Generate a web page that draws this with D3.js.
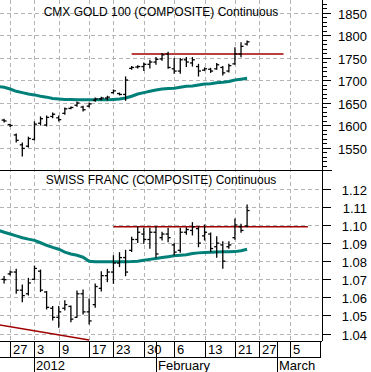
<!DOCTYPE html>
<html>
<head>
<meta charset="utf-8">
<script src="https://cdn.jsdelivr.net/npm/d3@7"></script>
<style>
  body { margin: 0; background: #fff; }
  text { font-family: "Liberation Sans", Arial, sans-serif; }
</style>
</head>
<body>
<div id="chart"></div>
<script>
// trading days shown on the axis
const tradingDays = [
  "2011-12-22","2011-12-23","2011-12-27","2011-12-28","2011-12-29","2011-12-30",
  "2012-01-03","2012-01-04","2012-01-05","2012-01-06","2012-01-09","2012-01-10",
  "2012-01-11","2012-01-12","2012-01-13","2012-01-17","2012-01-18","2012-01-19",
  "2012-01-20","2012-01-23","2012-01-24","2012-01-25","2012-01-26","2012-01-27",
  "2012-01-30","2012-01-31","2012-02-01","2012-02-02","2012-02-03","2012-02-06",
  "2012-02-07","2012-02-08","2012-02-09","2012-02-10","2012-02-13","2012-02-14",
  "2012-02-15","2012-02-16","2012-02-17","2012-02-21","2012-02-22","2012-02-23",
  "2012-02-24","2012-02-27","2012-02-28","2012-02-29","2012-03-01","2012-03-02",
  "2012-03-05","2012-03-06","2012-03-07","2012-03-08","2012-03-09","2012-03-12"
];
const weekTicks = ["2011-12-27","2012-01-03","2012-01-09","2012-01-17","2012-01-23","2012-01-30",
  "2012-02-06","2012-02-13","2012-02-21","2012-02-27","2012-03-05"];
const weekLabels = ["27","3","9","17","23","30","6","13","21","27","5"];
const monthTicks = ["2012-01-03","2012-02-01","2012-03-01"];
const monthLabels = ["2012","February","March"];

// gold, from Dec 23 (index 1) to Feb 23
const goldOpen  = [null,1611,1601,1578,1556,1553,1568,1604,1600,1619,1616,1626,1637,1644,1640,1642,1655,1658,1660,1672,1670,1668,1726,1729,1730,1735,1740,1747,1758,1725,1720,1745,1738,1730,1722,1724,1725,1728,1720,1736,1758,1780];
const goldHigh  = [null,1613,1602,1580,1560,1573,1607,1618,1620,1627,1620,1638,1640,1651,1642,1649,1660,1662,1664,1678,1671,1707,1730,1732,1738,1744,1750,1759,1762,1748,1748,1750,1750,1735,1727,1726,1737,1730,1735,1772,1783,1787];
const goldLow   = [null,1607,1597,1562,1531,1551,1567,1600,1598,1616,1609,1624,1636,1642,1631,1640,1653,1656,1656,1671,1667,1655,1724,1727,1721,1727,1735,1744,1726,1715,1715,1730,1731,1709,1721,1717,1724,1711,1718,1735,1752,1778];
const goldClose = [null,1609,1599,1566,1548,1570,1602,1614,1617,1624,1612,1636,1639,1649,1634,1647,1658,1660,1662,1676,1668,1700,1728,1730,1735,1740,1746,1756,1728,1720,1745,1740,1745,1720,1725,1720,1734,1716,1732,1758,1775,1785];
const goldMA = [1686,1684,1680,1675,1672,1669,1667,1664,1662,1659,1658,1657,1657,1656,1656,1656,1656,1656,1656,1657,1658,1660,1664,1669,1672,1675,1678,1680,1681,1682,1684,1686,1687,1689,1691,1692,1694,1695,1697,1700,1702,1704];
const goldResistance = { from: "2012-01-26", to: "2012-03-02", value: 1758 };
const goldTicks = [1550,1600,1650,1700,1750,1800,1850];

// swiss franc
const chfOpen  = [null,1.0700,1.0730,1.0740,1.0640,1.0620,1.0700,1.0745,1.0630,1.0540,1.0490,1.0540,1.0550,1.0490,1.0620,1.0520,1.0560,1.0650,1.0720,1.0740,1.0790,1.0820,1.0860,1.0920,1.0950,1.0920,1.0960,1.0930,1.0950,1.0890,1.0860,1.0960,1.0970,1.0980,1.0940,1.0950,1.0880,1.0890,1.0880,1.0930,1.0990,1.0995];
const chfHigh  = [null,1.0715,1.0746,1.0755,1.0669,1.0705,1.0773,1.0751,1.0632,1.0549,1.0549,1.0582,1.0552,1.0635,1.0641,1.0591,1.0674,1.0742,1.0755,1.0830,1.0847,1.0860,1.0932,1.0991,1.0982,1.0982,1.0991,1.0960,1.0982,1.0899,1.0982,1.0985,1.1013,1.0991,1.1000,1.0956,1.0935,1.0908,1.0908,1.1033,1.1004,1.1110];
const chfLow   = [null,1.0680,1.0724,1.0623,1.0576,1.0613,1.0700,1.0632,1.0536,1.0475,1.0435,1.0530,1.0466,1.0490,1.0508,1.0453,1.0545,1.0635,1.0687,1.0678,1.0770,1.0720,1.0853,1.0904,1.0899,1.0871,1.0822,1.0917,1.0908,1.0834,1.0849,1.0949,1.0945,1.0880,1.0917,1.0853,1.0822,1.0761,1.0871,1.0921,1.0960,1.0991];
const chfClose = [null,1.0698,1.0740,1.0640,1.0610,1.0680,1.0760,1.0640,1.0545,1.0490,1.0520,1.0560,1.0480,1.0620,1.0520,1.0470,1.0660,1.0720,1.0740,1.0790,1.0820,1.0740,1.0920,1.0960,1.0920,1.0960,1.0840,1.0950,1.0930,1.0850,1.0960,1.0975,1.0990,1.0900,1.0960,1.0870,1.0900,1.0800,1.0890,1.1000,1.0970,1.1080];
const chfMA = [1.0972,1.0960,1.0950,1.0940,1.0930,1.0922,1.0915,1.0902,1.0888,1.0876,1.0866,1.0850,1.0840,1.0833,1.0822,1.0800,1.0797,1.0797,1.0797,1.0797,1.0797,1.0797,1.0798,1.0800,1.0805,1.0810,1.0815,1.0820,1.0825,1.0830,1.0833,1.0836,1.0842,1.0846,1.0848,1.0850,1.0851,1.0852,1.0852,1.0853,1.0858,1.0866];
const chfResistance = { from: "2012-01-23", to: "2012-03-08", value: 1.099 };
const chfTrend = { from: "2011-12-22", to: "2012-01-17", start: 1.0449, end: 1.0365 };
const chfTicks = [1.04,1.05,1.06,1.07,1.08,1.09,1.10,1.11,1.12];

const width = 371, height = 372;
const plotRight = 322, midY = 170, plotBottom = 341;

const svg = d3.select("#chart").append("svg")
    .attr("width", width)
    .attr("height", height);

svg.append("rect").attr("width", width).attr("height", height).attr("fill", "#fff");

const x = d3.scaleLinear().domain([0, tradingDays.length - 1]).range([-2, 320]);
const xd = d => x(tradingDays.indexOf(d));

const yGold = d3.scaleLinear().domain([1500, 1878]).range([midY, 0]);
const yChf = d3.scaleLinear().domain([1.0359, 1.1304]).range([plotBottom, midY]);

svg.append("clipPath").attr("id", "clipTop")
  .append("rect").attr("x", 0).attr("y", 0).attr("width", plotRight).attr("height", midY);
svg.append("clipPath").attr("id", "clipBot")
  .append("rect").attr("x", 0).attr("y", midY).attr("width", plotRight).attr("height", plotBottom - midY);

// grid
const grid = svg.append("g")
    .attr("stroke", "#b4b4b4")
    .attr("stroke-dasharray", "4,3")
    .attr("stroke-width", 1);

grid.selectAll(".vgrid").data(weekTicks).enter().append("line")
    .attr("x1", d => Math.round(xd(d)) + 0.5)
    .attr("x2", d => Math.round(xd(d)) + 0.5)
    .attr("y1", 0).attr("y2", plotBottom);

grid.selectAll(".hg1").data(goldTicks).enter().append("line")
    .attr("x1", 0).attr("x2", plotRight)
    .attr("y1", d => Math.round(yGold(d)) + 0.5)
    .attr("y2", d => Math.round(yGold(d)) + 0.5);

grid.selectAll(".hg2").data(chfTicks).enter().append("line")
    .attr("x1", 0).attr("x2", plotRight)
    .attr("y1", d => Math.round(yChf(d)) + 0.5)
    .attr("y2", d => Math.round(yChf(d)) + 0.5);

function drawPanel(clip, y, open, high, low, close, ma, resistance) {
    const g = svg.append("g").attr("clip-path", `url(#${clip})`);

    // moving average
    const line = d3.line().x((d, i) => x(i)).y(d => y(d));
    g.append("path")
        .datum(ma)
        .attr("d", line)
        .attr("fill", "none")
        .attr("stroke", "#008078")
        .attr("stroke-width", 3);

    // resistance line
    g.append("line")
        .attr("x1", xd(resistance.from)).attr("x2", xd(resistance.to))
        .attr("y1", y(resistance.value)).attr("y2", y(resistance.value))
        .attr("stroke", "#a00000")
        .attr("stroke-width", 1.5);

    // OHLC bars
    const idx = d3.range(high.length).filter(i => high[i] != null);
    const bars = g.selectAll(".bar").data(idx).enter().append("g")
        .attr("stroke", "#000")
        .attr("stroke-width", 1.3);
    bars.append("line")
        .attr("x1", i => x(i)).attr("x2", i => x(i))
        .attr("y1", i => y(high[i]) - 0.5).attr("y2", i => y(low[i]) + 0.5);
    bars.append("line")
        .attr("x1", i => x(i) - 2.5).attr("x2", i => x(i))
        .attr("y1", i => y(open[i])).attr("y2", i => y(open[i]));
    bars.append("line")
        .attr("x1", i => x(i)).attr("x2", i => x(i) + 2.5)
        .attr("y1", i => y(close[i])).attr("y2", i => y(close[i]));
    return g;
}

drawPanel("clipTop", yGold, goldOpen, goldHigh, goldLow, goldClose, goldMA, goldResistance);
const bot = drawPanel("clipBot", yChf, chfOpen, chfHigh, chfLow, chfClose, chfMA, chfResistance);

// falling trend line in the franc panel
bot.append("line")
    .attr("x1", xd(chfTrend.from)).attr("x2", xd(chfTrend.to))
    .attr("y1", yChf(chfTrend.start)).attr("y2", yChf(chfTrend.end))
    .attr("stroke", "#a00000")
    .attr("stroke-width", 1.5);

// titles
svg.append("text").attr("x", 161).attr("y", 16)
    .attr("text-anchor", "middle").attr("font-size", "12px")
    .text("CMX GOLD 100 (COMPOSITE) Continuous");
svg.append("text").attr("x", 161).attr("y", 184)
    .attr("text-anchor", "middle").attr("font-size", "12px")
    .text("SWISS FRANC (COMPOSITE) Continuous");

// right axes
const axisG = svg.append("g").attr("stroke", "#000").attr("stroke-width", 1);
axisG.append("line").attr("x1", plotRight + 0.5).attr("x2", plotRight + 0.5).attr("y1", 0).attr("y2", plotBottom);
axisG.append("line").attr("x1", 0).attr("x2", 332).attr("y1", midY + 0.5).attr("y2", midY + 0.5);

axisG.selectAll(".minor").data(d3.range(1510, 1871, 10)).enter().append("line")
    .attr("x1", plotRight).attr("x2", plotRight + 5)
    .attr("y1", d => Math.round(yGold(d)) + 0.5).attr("y2", d => Math.round(yGold(d)) + 0.5);
axisG.selectAll(".major1").data(goldTicks).enter().append("line")
    .attr("x1", plotRight).attr("x2", plotRight + 9)
    .attr("y1", d => Math.round(yGold(d)) + 0.5).attr("y2", d => Math.round(yGold(d)) + 0.5);
axisG.selectAll(".major2").data(chfTicks).enter().append("line")
    .attr("x1", plotRight).attr("x2", plotRight + 9)
    .attr("y1", d => Math.round(yChf(d)) + 0.5).attr("y2", d => Math.round(yChf(d)) + 0.5);

svg.selectAll(".lab1").data(goldTicks).enter().append("text")
    .attr("x", 367).attr("y", d => yGold(d) + 6)
    .attr("text-anchor", "end").attr("font-size", "13px")
    .text(d => d);
svg.selectAll(".lab2").data(chfTicks).enter().append("text")
    .attr("x", 367).attr("y", d => yChf(d) + 6)
    .attr("text-anchor", "end").attr("font-size", "13px")
    .text(d3.format(".2f"));

// bottom date axis
const xa = svg.append("g").attr("stroke", "#000").attr("stroke-width", 1);
xa.append("line").attr("x1", 0).attr("x2", plotRight).attr("y1", plotBottom + 0.5).attr("y2", plotBottom + 0.5);
xa.append("line").attr("x1", 0).attr("x2", 321).attr("y1", 357.5).attr("y2", 357.5);
xa.append("line").attr("x1", 320.5).attr("x2", 320.5).attr("y1", plotBottom).attr("y2", 357.5);
xa.selectAll(".wk").data(weekTicks).enter().append("line")
    .attr("x1", d => Math.round(xd(d)) + 0.5).attr("x2", d => Math.round(xd(d)) + 0.5)
    .attr("y1", plotBottom).attr("y2", 357.5);
xa.selectAll(".mo").data(monthTicks).enter().append("line")
    .attr("x1", d => Math.round(xd(d)) + 0.5).attr("x2", d => Math.round(xd(d)) + 0.5)
    .attr("y1", plotBottom).attr("y2", height);

svg.selectAll(".wkl").data(weekTicks).enter().append("text")
    .attr("x", d => Math.round(xd(d)) + 3).attr("y", 354)
    .attr("font-size", "13px")
    .text((d, i) => weekLabels[i]);
svg.selectAll(".mol").data(monthTicks).enter().append("text")
    .attr("x", d => Math.round(xd(d)) + 2).attr("y", 370)
    .attr("font-size", "13px")
    .text((d, i) => monthLabels[i]);
</script>
</body>
</html>
